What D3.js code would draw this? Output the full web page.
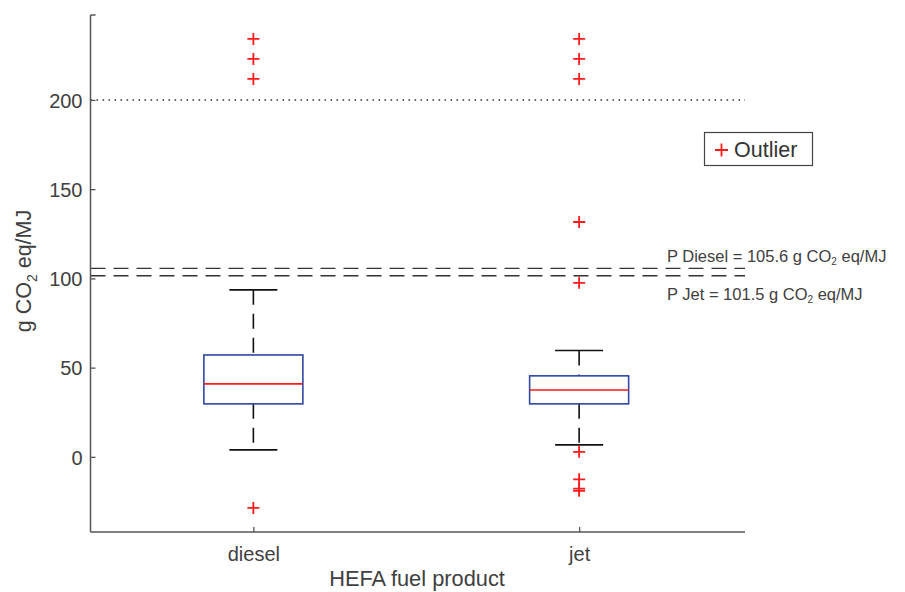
<!DOCTYPE html>
<html><head><meta charset="utf-8">
<script src="https://cdn.jsdelivr.net/npm/d3@7"></script>
<style>body{margin:0;background:#fff;} text{font-family:"Liberation Sans",Arial,sans-serif;}</style>
</head><body><svg id="c" width="905" height="592"></svg>
<script>
const categories = ["diesel", "jet"];
const whiskerHigh = [93.6, 59.6];
const q3 = [57.1, 45.4];
const medians = [40.9, 37.5];
const q1 = [29.7, 29.7];
const whiskerLow = [3.9, 6.7];
const outliers = [
  [234.2, 223.0, 211.8, -28.6],
  [234.2, 223.0, 211.8, 131.6, 97.5, 2.8, -12.6, -17.8, -19.0]
];
const yTicks = [0, 50, 100, 150, 200];
const refDiesel = 105.6, refJet = 101.5, refLimit = 200;

(function () {
const svg = d3.select("#c");
const pLeft = 90.5, pRight = 742, pTop = 15, pBottom = 532;
const y = d3.scaleLinear().domain([-42.1, 247.6]).range([pBottom, pTop]);
const x = d3.scalePoint().domain(categories).range([pLeft, pRight]).padding(0.5);
const axisCol = "#555";
const txtCol = "#404040";

// reference lines
svg.append("line").attr("x1", pLeft).attr("x2", 745).attr("y1", y(refLimit)).attr("y2", y(refLimit))
  .attr("stroke", "#333").attr("stroke-width", 1.6).attr("stroke-dasharray", "1.6,4.4");
[refDiesel, refJet].forEach(v => {
  svg.append("line").attr("x1", pLeft).attr("x2", 745).attr("y1", y(v)).attr("y2", y(v))
    .attr("stroke", "#333").attr("stroke-width", 1.3).attr("stroke-dasharray", "15,8");
});

// axes
const yAxis = d3.axisLeft(y).tickValues(yTicks).tickSize(-5).tickPadding(8);
const gy = svg.append("g").attr("transform", `translate(${pLeft},0)`).call(yAxis);
gy.select(".domain").remove();
gy.selectAll("line").attr("stroke", axisCol).attr("stroke-width", 1.3);
gy.selectAll("text").attr("font-size", 20).attr("fill", txtCol).attr("dy", "0.36em")
  .style("font-family", "Liberation Sans, Arial, sans-serif");
svg.append("line").attr("x1", pLeft).attr("x2", pLeft).attr("y1", pTop).attr("y2", pBottom).attr("stroke", axisCol).attr("stroke-width", 1.5);
svg.append("line").attr("x1", pLeft).attr("x2", pLeft + 5).attr("y1", pTop).attr("y2", pTop).attr("stroke", axisCol).attr("stroke-width", 1.5);

const xAxis = d3.axisBottom(x).tickSize(-5).tickPadding(15);
const gx = svg.append("g").attr("transform", `translate(0,${pBottom})`).call(xAxis);
gx.select(".domain").remove();
gx.selectAll("line").attr("stroke", axisCol).attr("stroke-width", 1.3);
gx.selectAll("text").attr("font-size", 20).attr("fill", txtCol).style("font-family", "Liberation Sans, Arial, sans-serif");
svg.append("line").attr("x1", pLeft).attr("x2", 745).attr("y1", pBottom).attr("y2", pBottom).attr("stroke", axisCol).attr("stroke-width", 1.5);

// boxes
const boxW = 99, capW = 48;
categories.forEach((c, i) => {
  const cx = x(c);
  const g = svg.append("g");
  g.append("line").attr("x1", cx).attr("x2", cx).attr("y1", y(whiskerHigh[i])).attr("y2", y(q3[i]))
    .attr("stroke", "#111").attr("stroke-width", 1.6).attr("stroke-dasharray", "15,9");
  g.append("line").attr("x1", cx).attr("x2", cx).attr("y1", y(q1[i])).attr("y2", y(whiskerLow[i]))
    .attr("stroke", "#111").attr("stroke-width", 1.6).attr("stroke-dasharray", "15,9");
  [whiskerHigh[i], whiskerLow[i]].forEach(v => {
    g.append("line").attr("x1", cx - capW / 2).attr("x2", cx + capW / 2).attr("y1", y(v)).attr("y2", y(v))
      .attr("stroke", "#111").attr("stroke-width", 1.6);
  });
  g.append("rect").attr("x", cx - boxW / 2).attr("width", boxW).attr("y", y(q3[i])).attr("height", y(q1[i]) - y(q3[i]))
    .attr("fill", "none").attr("stroke", "#2f47a3").attr("stroke-width", 1.6);
  g.append("line").attr("x1", cx - boxW / 2).attr("x2", cx + boxW / 2).attr("y1", y(medians[i])).attr("y2", y(medians[i]))
    .attr("stroke", "#ff1a1a").attr("stroke-width", 1.6);
  outliers[i].forEach(v => {
    const py = y(v);
    g.append("path").attr("d", `M${cx - 6},${py}H${cx + 6}M${cx},${py - 6}V${py + 6}`)
      .attr("stroke", "#ff1a1a").attr("stroke-width", 1.8).attr("fill", "none");
  });
});

// annotations
function annot(yy, pre) {
  const t = svg.append("text").attr("x", 667).attr("y", yy).attr("font-size", 16.5).attr("fill", txtCol);
  t.append("tspan").text(pre + " g CO");
  t.append("tspan").attr("font-size", 10).attr("dy", 3).text("2");
  t.append("tspan").attr("dy", -3).text(" eq/MJ");
}
annot(262, "P Diesel = " + refDiesel.toFixed(1));
annot(300, "P Jet = " + refJet.toFixed(1));

// legend
svg.append("rect").attr("x", 704.5).attr("y", 132.5).attr("width", 108).attr("height", 33)
  .attr("fill", "#fff").attr("stroke", "#444").attr("stroke-width", 1.2);
svg.append("path").attr("d", "M715,150H728M721.5,143.5V156.5").attr("stroke", "#ff1a1a").attr("stroke-width", 1.8);
svg.append("text").attr("x", 734).attr("y", 157).attr("font-size", 21.5).attr("fill", "#333").text("Outlier");

// axis labels
const yl = svg.append("text").attr("transform", "translate(31,271) rotate(-90)").attr("text-anchor", "middle")
  .attr("font-size", 21.5).attr("fill", txtCol);
yl.append("tspan").text("g CO");
yl.append("tspan").attr("font-size", 14).attr("dy", 6).text("2");
yl.append("tspan").attr("dy", -6).text(" eq/MJ");
svg.append("text").attr("x", 417).attr("y", 586).attr("text-anchor", "middle").attr("font-size", 21.8).attr("fill", txtCol)
  .text("HEFA fuel product");
})();
</script></body></html>
